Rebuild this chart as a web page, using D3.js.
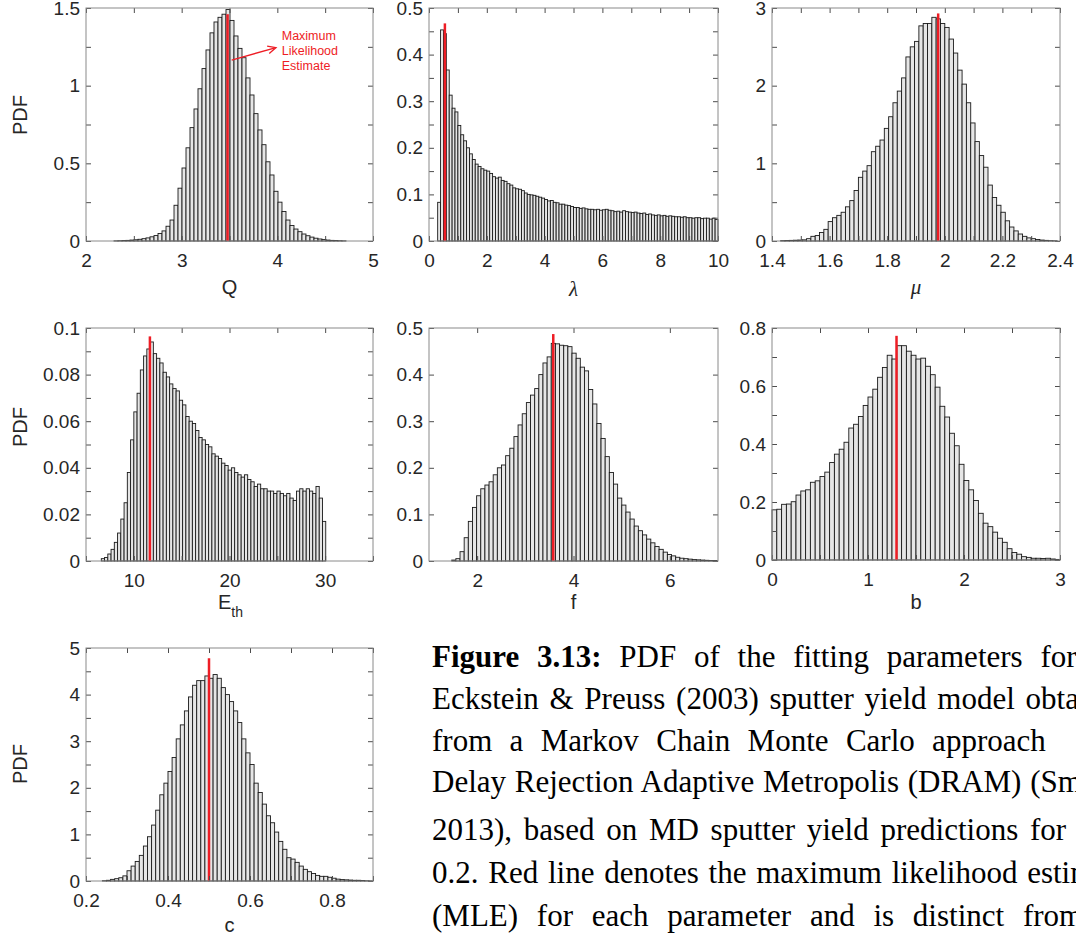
<!DOCTYPE html>
<html><head><meta charset="utf-8">
<script src="https://cdn.jsdelivr.net/npm/d3@7"></script>
<style>
html,body{margin:0;padding:0;background:#fff;overflow:hidden}
svg{display:block}
</style></head><body>
<svg id="fig" width="1076" height="942"></svg>
<script>
// ---------------- DATA ----------------
// Q
const qStart = 2.293, qWidth = 0.0418;
const qValues = [0.001,0.002,0.003,0.004,0.006,0.008,0.011,0.015,0.02,0.027,0.035,0.048,0.065,0.095,
  0.135,0.23,0.34,0.47,0.60,0.73,0.85,0.98,1.11,1.23,1.34,1.41,1.44,1.46,
  1.49,
  1.42,1.32,1.24,1.18,1.05,0.94,0.82,0.715,0.62,0.51,0.425,0.32,0.25,0.19,0.135,0.10,0.077,
  0.06,0.045,0.034,0.025,0.018,0.013,0.009,0.006,0.004,0.003,0.002,0.001];
const qMLE = 3.48, qMLETop = 1.46;

// lambda
const lamStart = 0.3, lamWidth = 0.1;
const lamValues = [0.083,0.453,0.445,0.367,0.313,0.285,0.277,0.248,0.228,0.215,
  0.200,0.187,0.175,0.165,0.160,0.155,0.152,0.150,0.145,0.138,
  0.135,0.137,0.130,0.128,0.123,0.120,0.114,0.112,0.111,0.108,
  0.103,0.100,0.099,0.098,0.096,0.094,0.092,0.089,0.086,0.087,
  0.083,0.082,0.079,0.079,0.077,0.076,0.074,0.072,0.072,0.070,
  0.071,0.069,0.068,0.068,0.067,0.068,0.066,0.067,0.068,0.066,
  0.065,0.063,0.064,0.062,0.065,0.063,0.062,0.061,0.062,0.060,
  0.059,0.060,0.057,0.058,0.056,0.055,0.056,0.054,0.055,0.053,
  0.054,0.053,0.052,0.052,0.051,0.052,0.050,0.050,0.049,0.050,
  0.050,0.048,0.049,0.049,0.047,0.049,0.046];
const lamMLE = 0.55, lamMLETop = 0.467;

// mu
const muStart = 1.43, muWidth = 0.015;
const muValues = [0.005,0.006,0.008,0.01,0.012,0.015,0.03,0.06,0.07,0.11,
  0.15,0.25,0.3,0.33,0.37,0.44,0.52,0.65,0.82,0.9,
  0.97,1.15,1.22,1.3,1.45,1.6,1.78,1.93,2.1,2.37,
  2.5,2.57,2.77,2.8,2.8,2.88,2.86,2.8,2.75,2.6,
  2.42,2.2,2.02,1.78,1.52,1.28,1.1,0.95,0.72,0.56,
  0.46,0.37,0.26,0.18,0.13,0.09,0.06,0.04,0.03,0.02,
  0.012,0.008,0.005,0.003];
const muMLE = 1.977, muMLETop = 2.93;

// E_th
const eStart = 6.6, eWidth = 0.34;
const eValues = [0.001,0.0015,0.003,0.005,0.008,0.012,0.018,0.025,0.038,0.052,
  0.064,0.072,0.082,0.088,0.091,0.094,0.089,0.087,0.085,0.081,
  0.079,0.076,0.074,0.073,0.069,0.067,0.062,0.060,0.059,0.056,
  0.053,0.052,0.050,0.049,0.046,0.045,0.044,0.042,0.041,0.039,
  0.040,0.038,0.037,0.036,0.037,0.035,0.034,0.032,0.033,0.031,
  0.031,0.030,0.030,0.029,0.030,0.029,0.028,0.029,0.027,0.026,
  0.030,0.031,0.030,0.031,0.030,0.029,0.032,0.027,0.017];
const eMLE = 11.68, eMLETop = 0.0964;

// f
const fStart = 1.472, fWidth = 0.0861;
const fValues = [0.002,0.005,0.02,0.05,0.085,0.115,0.14,0.155,0.163,0.17,
  0.185,0.2,0.206,0.226,0.242,0.267,0.292,0.316,0.34,0.356,
  0.37,0.40,0.425,0.438,0.467,0.466,0.463,0.462,0.46,0.446,
  0.435,0.416,0.408,0.368,0.337,0.295,0.263,0.224,
  0.19,0.165,0.135,0.12,0.105,0.09,0.075,0.065,0.056,0.047,
  0.039,0.031,0.025,0.019,0.014,0.011,0.008,0.006,0.005,0.004,
  0.003,0.0025,0.002,0.0015,0.001,0.001];
const fMLE = 3.58, fMLETop = 0.487;

// b
const bStart = 0, bWidth = 0.05;
const bValues = [0.173,0.175,0.192,0.193,0.201,0.224,0.238,0.242,0.268,0.273,
  0.288,0.303,0.336,0.365,0.382,0.406,0.455,0.468,0.495,0.533,
  0.562,0.589,0.63,0.664,0.706,0.693,0.739,0.739,0.72,0.706,
  0.693,0.696,0.668,0.639,0.596,0.53,0.493,0.437,0.394,0.33,
  0.274,0.242,0.205,0.161,0.127,0.115,0.096,0.075,0.061,0.039,
  0.026,0.02,0.0115,0.009,0.006,0.006,0.005,0.006,0.0035,0.002];
const bMLE = 1.297, bMLETop = 0.773;

// c
const cStart = 0.24, cWidth = 0.01;
const cValues = [0.007,0.015,0.035,0.05,0.07,0.11,0.22,0.32,0.42,0.55,
  0.75,0.95,1.2,1.52,1.85,2.1,2.35,2.65,3.05,3.35,
  3.65,3.95,4.2,4.3,4.3,4.4,4.35,4.43,4.35,4.15,
  4.0,3.85,3.65,3.4,3.05,2.75,2.5,2.1,1.9,1.65,
  1.4,1.25,1.05,0.85,0.68,0.5,0.47,0.4,0.32,0.25,
  0.2,0.16,0.12,0.1,0.1,0.08,0.06,0.04,0.03,0.025,
  0.02,0.015,0.015,0.01,0.005,0.003];
const cMLE = 0.5, cMLETop = 4.78;

// axis settings (domains and tick steps)
const xDomains = [[2,5],[0,10],[1.4,2.4],[5,35],[1,7],[0,3],[0.2,0.9]];
const yDomains = [[0,1.5],[0,0.5],[0,3],[0,0.1],[0,0.5],[0,0.8],[0,5]];
const xTickSteps = [[0.5,1],[1,2],[0.1,0.2],[5,10],[2,2],[0.5,1],[0.1,0.2]];
const yTickSteps = [[0.25,0.5],[0.05,0.1],[0.5,1],[0.01,0.02],[0.1,0.1],[0.1,0.2],[0.5,1]];

const captionLines = [
  "Figure 3.13:|PDF of the fitting parameters for",
  "Eckstein & Preuss (2003) sputter yield model obtained",
  "from a Markov Chain Monte Carlo approach",
  "Delay Rejection Adaptive Metropolis (DRAM) (Smith,",
  "2013), based on MD sputter yield predictions for",
  "0.2. Red line denotes the maximum likelihood estimate",
  "(MLE) for each parameter and is distinct from"
];

// ---------------- LAYOUT ----------------
const boxes = [
  {x0:86, x1:373, y0:8, y1:241},
  {x0:429, x1:718, y0:8, y1:241},
  {x0:772, x1:1060, y0:8, y1:241},
  {x0:86, x1:373, y0:328, y1:561},
  {x0:429, x1:718, y0:328, y1:561},
  {x0:772, x1:1060, y0:328, y1:560},
  {x0:86, x1:373, y0:648, y1:881}
];
const series = [
  {start:qStart, width:qWidth, values:qValues, mle:qMLE, mleTop:qMLETop},
  {start:lamStart, width:lamWidth, values:lamValues, mle:lamMLE, mleTop:lamMLETop},
  {start:muStart, width:muWidth, values:muValues, mle:muMLE, mleTop:muMLETop},
  {start:eStart, width:eWidth, values:eValues, mle:eMLE, mleTop:eMLETop},
  {start:fStart, width:fWidth, values:fValues, mle:fMLE, mleTop:fMLETop},
  {start:bStart, width:bWidth, values:bValues, mle:bMLE, mleTop:bMLETop},
  {start:cStart, width:cWidth, values:cValues, mle:cMLE, mleTop:cMLETop}
];

const svg = d3.select("#fig");
const SANS = "'Liberation Sans', Arial, Helvetica, sans-serif";
const SERIF = "'Liberation Serif', 'Times New Roman', serif";
const TXT = "#262626";
const fmt = d => String(+(+d).toFixed(6));
const isMajor = (d, m) => Math.abs(d/m - Math.round(d/m)) < 1e-6;
function tickList(dom, step){
  const n0 = Math.ceil(dom[0]/step - 1e-9), n1 = Math.floor(dom[1]/step + 1e-9);
  return d3.range(n0, n1+1).map(k => +(k*step).toFixed(10));
}
function styleAxis(g){
  g.select(".domain").remove();
  g.selectAll(".tick line").attr("stroke","#4d4d4d").attr("stroke-width",1);
  g.selectAll(".tick text").attr("fill",TXT).style("font-family",SANS).style("font-size","19px");
}

const scales = [];
series.forEach((s, i) => {
  const b = boxes[i];
  const x = d3.scaleLinear().domain(xDomains[i]).range([b.x0, b.x1]);
  const y = d3.scaleLinear().domain(yDomains[i]).range([b.y1, b.y0]);
  scales.push({x, y});
  const g = svg.append("g");
  const bins = s.values.map((v, k) => ({a: s.start + k*s.width, b: s.start + (k+1)*s.width, v}));
  g.selectAll("rect.bar").data(bins).join("rect").attr("class","bar")
    .attr("x", d => x(d.a)).attr("width", d => x(d.b) - x(d.a))
    .attr("y", d => y(d.v)).attr("height", d => y(0) - y(d.v))
    .attr("fill","#e6e6e6").attr("stroke","#1a1a1a").attr("stroke-width",0.9);
  g.append("line")
    .attr("x1", x(s.mle)).attr("x2", x(s.mle))
    .attr("y1", y(0)).attr("y2", y(s.mleTop))
    .attr("stroke","#ee1d25").attr("stroke-width",2.5);

  const [xm, xM] = xTickSteps[i], [ym, yM] = yTickSteps[i];
  const xt = tickList(xDomains[i], xm), yt = tickList(yDomains[i], ym);
  g.append("g").attr("transform",`translate(0,${b.y1})`)
    .call(d3.axisBottom(x).tickValues(xt).tickSizeInner(-5).tickSizeOuter(0).tickPadding(13)
      .tickFormat(d => isMajor(d, xM) ? fmt(d) : ""))
    .call(styleAxis);
  g.append("g").attr("transform",`translate(0,${b.y0})`)
    .call(d3.axisTop(x).tickValues(xt).tickSizeInner(-5).tickSizeOuter(0).tickFormat(""))
    .call(styleAxis);
  g.append("g").attr("transform",`translate(${b.x0},0)`)
    .call(d3.axisLeft(y).tickValues(yt).tickSizeInner(-5).tickSizeOuter(0).tickPadding(6)
      .tickFormat(d => isMajor(d, yM) ? fmt(d) : ""))
    .call(styleAxis);
  g.append("g").attr("transform",`translate(${b.x1},0)`)
    .call(d3.axisRight(y).tickValues(yt).tickSizeInner(-5).tickSizeOuter(0).tickFormat(""))
    .call(styleAxis);
  g.append("rect").attr("x", b.x0).attr("y", b.y0)
    .attr("width", b.x1 - b.x0).attr("height", b.y1 - b.y0)
    .attr("fill","none").attr("stroke","#8a8a8a").attr("stroke-width",1);
});

// axis labels
function addText(x, y, txt, opts={}){
  const t = svg.append("text").attr("x", x).attr("y", y).text(txt)
    .attr("text-anchor", opts.anchor || "middle")
    .attr("fill", opts.fill || TXT)
    .style("font-family", opts.family || SANS)
    .style("font-size", (opts.size || 20) + "px");
  if (opts.italic) t.style("font-style","italic");
  if (opts.rotate) t.attr("transform", `rotate(-90,${x},${y})`);
  return t;
}
const cx = b => (b.x0 + b.x1)/2;
addText(20, 115, "PDF", {rotate:true}).attr("dy","0.35em");
addText(20, 427, "PDF", {rotate:true}).attr("dy","0.35em");
addText(20, 764, "PDF", {rotate:true}).attr("dy","0.35em");
addText(cx(boxes[0]), 294, "Q");
addText(cx(boxes[1]), 296, "λ", {family:SERIF, italic:true, size:21});
addText(cx(boxes[2]), 294, "μ", {family:SERIF, italic:true, size:21});
const et = addText(cx(boxes[3]) + 1, 609, "E");
et.append("tspan").attr("dy", 8).style("font-size","14px").text("th");
addText(cx(boxes[4]), 609, "f");
addText(cx(boxes[5]), 609, "b");
addText(cx(boxes[6]), 932, "c");

// annotation in panel 1 (data coordinates)
const sx = scales[0].x, sy = scales[0].y;
const ax0 = sx(3.523), ay0 = sy(1.165), ax1 = sx(3.986), ay1 = sy(1.245);
svg.append("line").attr("x1",ax0).attr("y1",ay0).attr("x2",ax1).attr("y2",ay1)
  .attr("stroke","#ee1d25").attr("stroke-width",1.3);
const ang = Math.atan2(ay1 - ay0, ax1 - ax0);
const head = [ang + Math.PI - 0.45, ang + Math.PI + 0.45].map(a => [ax1 + 9*Math.cos(a), ay1 + 9*Math.sin(a)]);
svg.append("path")
  .attr("d", `M${head[0][0]},${head[0][1]}L${ax1},${ay1}L${head[1][0]},${head[1][1]}`)
  .attr("fill","none").attr("stroke","#ee1d25").attr("stroke-width",1.3);
["Maximum","Likelihood","Estimate"].forEach((w, k) => {
  addText(sx(4.046), 39.5 + 15*k, w, {anchor:"start", fill:"#ee1d25", size:12.5});
});

// caption
const capBase = [667, 709, 751, 792, 840, 883, 926];
const capSpacing = [10, 3, 9.6, 1, 4, 2, 11];
captionLines.forEach((line, k) => {
  const t = svg.append("text").attr("x", 432).attr("y", capBase[k])
    .attr("fill","#000").style("font-family", SERIF).style("font-size","31px")
    .style("word-spacing", capSpacing[k] + "px").attr("xml:space","preserve");
  if (line.includes("|")) {
    const [bold, rest] = line.split("|");
    t.append("tspan").style("font-weight","bold").text(bold);
    t.append("tspan").text(" " + rest);
  } else {
    t.text(line);
  }
});
</script>
</body></html>
